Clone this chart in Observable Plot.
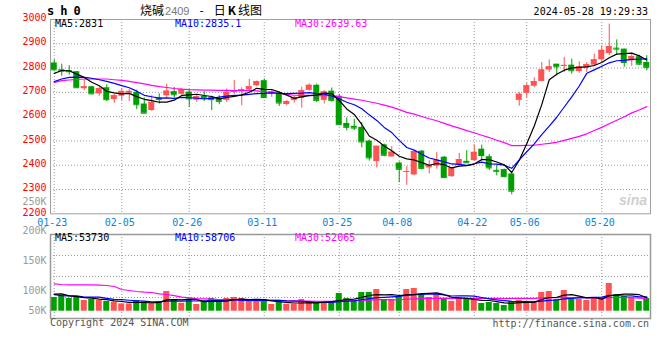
<!DOCTYPE html>
<html><head><meta charset="utf-8">
<script src="https://cdn.jsdelivr.net/npm/d3@7"></script>
<script src="https://cdn.jsdelivr.net/npm/@observablehq/plot@0.6"></script>
<style>
body{margin:0;background:#fff;}
#wrap{position:relative;width:660px;height:360px;overflow:hidden;font-family:"DejaVu Sans Mono",monospace;font-size:10px;background:#fff;}
#wrap svg{position:absolute;left:0;top:0;}
.t{position:absolute;white-space:pre;line-height:1;}
</style></head><body><div id="wrap"></div>
<script>
// ---- data ----
const dates = ["01-23","01-24","01-25","01-26","01-29","01-30","01-31","02-01","02-02","02-05","02-06","02-07","02-08","02-19","02-20","02-21","02-22","02-23","02-26","02-27","02-28","02-29","03-01","03-04","03-05","03-06","03-07","03-08","03-11","03-12","03-13","03-14","03-15","03-18","03-19","03-20","03-21","03-22","03-25","03-26","03-27","03-28","03-29","04-01","04-02","04-03","04-08","04-09","04-10","04-11","04-12","04-15","04-16","04-17","04-18","04-19","04-22","04-23","04-24","04-25","04-26","04-29","04-30","05-06","05-07","05-08","05-09","05-10","05-13","05-14","05-15","05-16","05-17","05-20","05-21","05-22","05-23","05-24","05-27","05-28"];
const opens = [2821,2793,2790,2785,2715,2723,2694,2719,2670,2684,
  2697,2700,2652,2625,2677,2686,2703,2692,2701,2668,
  2683,2679,2675,2667,2700,2704,2710,2727,2748,2693,
  2698,2650,2666,2676,2708,2729,2667,2705,2684,2572,
  2560,2556,2499,2415,2484,2434,2409,2372,2360,2458,
  2389,2396,2433,2353,2399,2416,2419,2466,2435,2379,
  2382,2364,2667,2696,2725,2745,2792,2816,2808,2812,
  2786,2800,2812,2834,2860,2882,2878,2830,2847,2823];
const highs = [2834,2816,2810,2786,2751,2725,2721,2731,2693,2714,
  2712,2709,2677,2686,2694,2734,2720,2716,2711,2690,
  2703,2684,2686,2714,2749,2719,2753,2747,2755,2711,
  2702,2666,2685,2721,2735,2734,2707,2718,2690,2595,
  2589,2575,2504,2478,2487,2477,2413,2395,2457,2461,
  2419,2452,2436,2391,2449,2460,2484,2483,2444,2400,
  2384,2366,2700,2737,2760,2823,2834,2816,2844,2837,
  2826,2823,2858,2892,2981,2916,2878,2862,2853,2851];
const lows = [2788,2766,2771,2716,2707,2690,2684,2662,2655,2665,
  2662,2629,2614,2622,2652,2678,2677,2689,2638,2659,
  2663,2625,2649,2659,2692,2645,2703,2723,2675,2679,
  2642,2645,2656,2635,2705,2658,2652,2660,2564,2541,
  2543,2472,2417,2389,2435,2434,2328,2317,2358,2380,
  2364,2384,2345,2350,2395,2408,2416,2420,2378,2356,
  2348,2278,2643,2677,2719,2745,2782,2768,2782,2775,
  2779,2782,2807,2823,2851,2853,2803,2807,2810,2789];
const closes = [2793,2788,2785,2719,2723,2694,2715,2670,2686,2704,
  2704,2649,2614,2659,2671,2705,2690,2711,2673,2682,
  2679,2670,2663,2700,2705,2711,2723,2744,2679,2702,
  2656,2662,2679,2707,2729,2667,2702,2667,2567,2556,
  2553,2496,2430,2478,2441,2454,2383,2374,2456,2387,
  2399,2420,2349,2389,2423,2410,2453,2440,2389,2375,
  2353,2293,2692,2727,2744,2792,2805,2805,2811,2789,
  2805,2814,2834,2873,2888,2878,2823,2847,2816,2803];
const volumes = [55200,63300,51200,59200,43100,47200,43100,39100,36300,29400,
  29400,43100,37500,29400,39100,79400,47200,32200,47200,27000,
  39100,51200,35100,51200,55200,51200,43100,39100,47200,27000,
  35100,28200,28200,47200,35100,31000,39100,39100,71300,51200,
  43100,75400,75400,87500,47200,47200,59200,87500,91500,67300,
  55200,67300,51200,39100,55200,47200,47200,31000,35100,31000,
  23000,39100,43100,39100,39100,75400,79400,47200,83400,47200,
  47200,43100,55200,51200,111600,67300,59200,55200,39100,51200];
// moving-average values shown before each window fills
const priceMa5Lead = [2778,2790,2789,2775];
const priceMa10Lead = [2744,2755,2762,2763,2762,2758,2752,2745,2737];
const priceMa30Lead = [2741,2748,2751,2753,2755,2755,2755,2755,2752,2749,2745,2740,2735,2729,2724,2720,2716,2713,2711,2710,2709,2709,2708,2708,2707,2707,2707,2706,2702];
const volMa5Lead = [68500,70000,62000,59000];
const volMa10Lead = [67000,63000,62000,62000,57000,57000,57000,52000,48000];
const volMa30Lead = [110000,107500,106000,106000,106000,106000,105000,103500,99500,87400,83400,79400,76600,75300,69800,67200,63100,56400,53700,51000,49700,48400,47000,45700,44300,44300,43000,43000,41600];
const tickDates = ["01-23","02-05","02-26","03-11","03-25","04-08","04-22","05-06","05-20"];
const priceTicks = [2200,2300,2400,2500,2600,2700,2800,2900,3000];
const volTicks = [50000,100000,150000,200000,250000];
const legendPrice = ["MA5:2831","MA10:2835.1","MA30:2639.63"];
const legendVol = ["MA5:53730","MA10:58706","MA30:52065"];

// ---- build ----
const RED = "#ff5252", GREEN = "#009f00";
function ma(vals, k, lead){ return vals.map((v,i)=> i < k-1 ? lead[i] : d3.mean(vals.slice(i-k+1,i+1))); }
const pm5 = ma(closes,5,priceMa5Lead), pm10 = ma(closes,10,priceMa10Lead), pm30 = ma(closes,30,priceMa30Lead);
const vm5 = ma(volumes,5,volMa5Lead), vm10 = ma(volumes,10,volMa10Lead), vm30 = ma(volumes,30,volMa30Lead);
const data = dates.map((d,i)=>({date:d, open:opens[i], high:highs[i], low:lows[i], close:closes[i], vol:volumes[i],
  col: closes[i] >= opens[i] ? RED : GREEN, pm5:pm5[i], pm10:pm10[i], pm30:pm30[i], vm5:vm5[i], vm10:vm10[i], vm30:vm30[i]}));

const W = 660, H = 360, ML = 50, MR = 10;
const baseStyle = {fontFamily:"DejaVu Sans Mono, monospace", fontSize:"10px", background:"transparent", overflow:"visible"};
const xOpt = {type:"band", domain:dates, padding:0, axis:null};
const grid = {stroke:"#9a9a9a", strokeDasharray:"1,2", strokeWidth:1};

const upper = Plot.plot({
  width:W, height:H, marginLeft:ML, marginRight:MR, marginTop:19, marginBottom:H-213.3,
  x:xOpt, y:{domain:[2200,3000], axis:null}, color:{type:"identity"},
  style:baseStyle,
  marks:[
    Plot.ruleY(priceTicks.slice(1,-1), grid),
    Plot.ruleX(tickDates, {x:d=>d, ...grid}),
    Plot.frame({stroke:"#a0a0a0"}),
    Plot.axisY(priceTicks, {anchor:"left", tickSize:0, tickPadding:4, color:"#ff0000", dy:-1.5, tickFormat:d=>String(d), label:null}),
    Plot.axisX(tickDates, {anchor:"bottom", tickSize:0, tickPadding:5, color:"#0a84d6", dx:-2, label:null}),
    Plot.ruleX(data, {x:"date", y1:"low", y2:"high", stroke:"col"}),
    Plot.barY(data, {x:"date", y1:"open", y2:"close", fill:"col", insetLeft:0.75, insetRight:0.75}),
    Plot.tickY(data, {x:"date", y:"close", stroke:"col", insetLeft:0.75, insetRight:0.75}),
    Plot.lineY(data, {x:"date", y:"pm30", stroke:"#ff00ff", strokeWidth:1.2}),
    Plot.lineY(data, {x:"date", y:"pm10", stroke:"#0000ff", strokeWidth:1.2}),
    Plot.lineY(data, {x:"date", y:"pm5", stroke:"#000000", strokeWidth:1.2})
  ]
});

const vTop = 234, vBot = 318, vBase = 310.7, vPerPx = 4030;
const vDomain = [-(vBot-vBase)*vPerPx, (vBase-vTop)*vPerPx];
const vGrid = [1,2,3].map(k => vDomain[0] + (vDomain[1]-vDomain[0])*k/4);
const lower = Plot.plot({
  width:W, height:H, marginLeft:ML, marginRight:MR, marginTop:vTop, marginBottom:H-vBot,
  x:xOpt, y:{domain:vDomain, axis:null}, color:{type:"identity"},
  style:baseStyle,
  marks:[
    Plot.ruleY(vGrid, grid),
    Plot.ruleX(tickDates, {x:d=>d, ...grid}),
    Plot.barY(data, {x:"date", y:"vol", fill:"col", insetLeft:0.75, insetRight:0.75}),
    Plot.lineY(data, {x:"date", y:"vm30", stroke:"#ff00ff", strokeWidth:1.2}),
    Plot.lineY(data, {x:"date", y:"vm10", stroke:"#0000ff", strokeWidth:1.2}),
    Plot.lineY(data, {x:"date", y:"vm5", stroke:"#000000", strokeWidth:1.2}),
    Plot.frame({stroke:"#999", strokeWidth:1.5})
  ]
});

// volume tick labels use the chart's own (separate, clamped) label scale
const volLabels = Plot.plot({
  width:W, height:H, marginLeft:ML, marginRight:MR, marginTop:200, marginBottom:50,
  y:{domain:[66292,251685], clamp:true, axis:null},
  style:baseStyle,
  marks:[
    Plot.text(volTicks, {y:d=>d, text:d=>(d/1000)+"K", frameAnchor:"left", textAnchor:"end", dx:-4, fill:"#9a9a9a"})
  ]
});

const wrap = document.getElementById("wrap");
wrap.append(upper, lower, volLabels);

function addText(txt, css){ const el=document.createElement("div"); el.className="t"; el.textContent=txt; Object.assign(el.style, css); wrap.append(el); return el; }
// header
addText("sh0", {left:"47px", top:"5px", fontSize:"12px", fontWeight:"bold", letterSpacing:"6px", color:"#000"});
const title = document.createElement("div"); title.className="t";
Object.assign(title.style,{left:"140px", top:"4px", fontSize:"12px", fontFamily:"'Noto Sans CJK SC', sans-serif", color:"#000"});
title.innerHTML = '烧碱<span style="color:#777;font-family:\'Liberation Sans\',sans-serif;font-size:11px;margin-left:1px">2409</span><span style="margin-left:10px;margin-right:10px">-</span>日<b style="margin:0 2px">K</b>线图';
wrap.append(title);
addText("2024-05-28 19:29:33", {right:"12px", top:"7px", color:"#000"});
// legends
const lx = ["55px","175px","295px"], lc = ["#000","#0000ff","#ff00ff"];
legendPrice.forEach((s,i)=>addText(s,{left:lx[i], top:"19px", color:lc[i]}));
legendVol.forEach((s,i)=>addText(s,{left:lx[i], top:"233px", color:lc[i]}));
// footer
addText("Copyright 2024 SINA.COM", {left:"50px", top:"318px", color:"#555"});
addText("http://finance.sina.com.cn", {right:"11px", top:"319px", color:"#555"});
// watermark
addText("sina", {left:"619px", top:"193px", fontSize:"14px", fontWeight:"bold", fontStyle:"italic", fontFamily:"'Liberation Sans',sans-serif", color:"#cfcfcf"});
</script></body></html>
